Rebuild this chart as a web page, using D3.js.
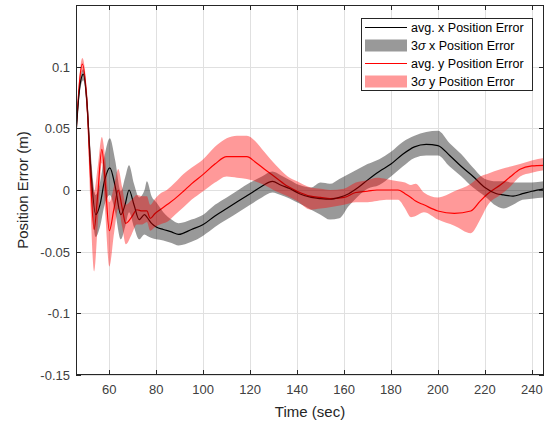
<!DOCTYPE html>
<html><head><meta charset="utf-8">
<script src="https://cdn.jsdelivr.net/npm/d3@7"></script>
<style>
html,body{margin:0;padding:0;background:#fff;}
svg{display:block;font-family:"Liberation Sans",Arial,Helvetica,sans-serif;}
</style></head>
<body>
<svg id="chart" width="547" height="426"></svg>
<script>
// ---- data ----
const xTime = [45.8,47.5,48.9,50.5,52,54.2,56,58,60.2,62.5,64.9,66.7,68.4,70.5,72.7,75,76,78,80,83,86.5,89.5,95,100,105,110,115,120,125,129.5,133,137,141,146,150,154,158,162,166,170,175,180,185,190,195,200,205,210,215,220,225,228,232,236,240,245.2];
const xAvg  = [0.045,0.085,0.094,0.07,0.02,-0.020,-0.012,0.008,0.018,0.003,-0.020,-0.012,0.000,-0.012,-0.024,-0.020,-0.022,-0.027,-0.030,-0.032,-0.034,-0.036,-0.032,-0.028,-0.021,-0.015,-0.009,-0.003,0.003,0.007,0.004,0.001,-0.003,-0.006,-0.007,-0.0075,-0.006,-0.003,0.002,0.008,0.015,0.021,0.029,0.035,0.037,0.036,0.028,0.019,0.011,0.002,-0.003,-0.004,-0.005,-0.003,-0.001,0.001];
const xLo   = [0.041,0.080,0.089,0.062,0.008,-0.038,-0.030,-0.012,-0.004,-0.018,-0.040,-0.030,-0.018,-0.030,-0.040,-0.036,-0.037,-0.039,-0.040,-0.041,-0.043,-0.045,-0.042,-0.037,-0.030,-0.024,-0.018,-0.012,-0.006,-0.002,-0.004,-0.007,-0.011,-0.016,-0.020,-0.024,-0.023,-0.013,-0.005,0.001,0.004,0.011,0.019,0.026,0.028,0.028,0.019,0.011,0.002,-0.005,-0.013,-0.015,-0.012,-0.008,-0.007,-0.006];
const xHi   = [0.049,0.089,0.098,0.077,0.032,-0.004,0.006,0.028,0.042,0.024,-0.001,0.010,0.020,0.005,-0.006,0.000,0.007,-0.005,-0.010,-0.018,-0.024,-0.027,-0.024,-0.020,-0.012,-0.006,0.000,0.006,0.011,0.015,0.012,0.008,0.004,0.002,0.006,0.005,0.009,0.013,0.017,0.021,0.025,0.031,0.039,0.044,0.047,0.048,0.038,0.029,0.018,0.009,0.007,0.007,0.006,0.006,0.006,0.007];

const yTime = [45.8,48.5,50.5,52,53.5,55,56.8,58.3,60,62,63.8,65.5,67,69.5,71.7,74,76,77.4,79.5,81.6,84.5,88,91.6,95,100,105,110,114.4,118.6,122,126,131,136,140,145.7,150,154,160,165,170,174,178,183,186,188.5,190.5,194,200,207,214,218,221,227,231,235,240,245.2];
const yAvg  = [0.045,0.102,0.07,0.01,-0.032,-0.005,0.033,0.005,-0.033,-0.015,0.000,-0.015,-0.027,-0.022,-0.016,-0.017,-0.017,-0.023,-0.019,-0.016,-0.012,-0.007,-0.001,0.005,0.0127,0.021,0.027,0.027,0.027,0.023,0.017,0.010,0.003,-0.001,-0.005,-0.006,-0.007,-0.006,-0.002,-0.001,0.000,0.000,0.000,-0.003,-0.006,-0.009,-0.012,-0.017,-0.019,-0.017,-0.009,-0.0035,0.0046,0.011,0.0168,0.0195,0.020];
const yLo   = [0.041,0.096,0.060,-0.015,-0.066,-0.030,0.022,-0.020,-0.062,-0.035,-0.015,-0.030,-0.044,-0.036,-0.028,-0.028,-0.026,-0.033,-0.030,-0.028,-0.026,-0.020,-0.014,-0.008,-0.001,0.006,0.011,0.010,0.009,0.007,0.004,-0.001,-0.005,-0.009,-0.016,-0.015,-0.014,-0.012,-0.010,-0.010,-0.009,-0.008,-0.008,-0.015,-0.022,-0.021,-0.018,-0.024,-0.029,-0.035,-0.024,-0.013,-0.0035,0.003,0.011,0.014,0.016];
const yHi   = [0.049,0.107,0.080,0.030,-0.002,0.018,0.043,0.025,-0.010,0.003,0.017,0.002,-0.012,-0.008,-0.004,-0.005,-0.005,-0.012,-0.007,-0.003,0.000,0.006,0.013,0.018,0.025,0.035,0.042,0.044,0.044,0.040,0.031,0.020,0.011,0.007,0.002,0.001,0.000,0.001,0.006,0.008,0.010,0.009,0.007,0.006,0.004,0.005,-0.002,-0.006,-0.001,0.005,0.011,0.013,0.017,0.019,0.021,0.024,0.026];

const xTicks = [60,80,100,120,140,160,180,200,220,240];
const yTicks = [-0.15,-0.1,-0.05,0,0.05,0.1];
const yTickLabels = ["-0.15","-0.1","-0.05","0","0.05","0.1"];
const legendLabels = ["avg. x Position Error","3σ x Position Error","avg. y Position Error","3σ y Position Error"];

// ---- chart ----
const svg = d3.select("#chart");
const L = 76, R = 544, T = 5, B = 375;
const x = d3.scaleLinear().domain([45.8, 245.2]).range([L, R]);
const y = d3.scaleLinear().domain([-0.15, 0.15]).range([B, T]);
const axisCol = "#262626";
const labelCol = "#404040";

// grid
const grid = svg.append("g");
xTicks.forEach(t => grid.append("line").attr("x1", Math.round(x(t))+0.5).attr("x2", Math.round(x(t))+0.5).attr("y1", T).attr("y2", B)
  .attr("stroke", "#e0e0e0").attr("stroke-width", 1));
yTicks.concat([0.15]).forEach(t => grid.append("line").attr("x1", L).attr("x2", R).attr("y1", Math.round(y(t))+0.5).attr("y2", Math.round(y(t))+0.5)
  .attr("stroke", "#e0e0e0").attr("stroke-width", 1));

svg.append("defs").append("clipPath").attr("id", "clip").append("rect")
  .attr("x", L).attr("y", T).attr("width", R - L).attr("height", B - T);
const plot = svg.append("g").attr("clip-path", "url(#clip)");

const xs = xTime.map((t, i) => ({t, a: xAvg[i], lo: xLo[i], hi: xHi[i]}));
const ys = yTime.map((t, i) => ({t, a: yAvg[i], lo: yLo[i], hi: yHi[i]}));
const curve = d3.curveMonotoneX;
const line = d3.line().x(d => x(d.t)).y(d => y(d.a)).curve(curve);
const area = d3.area().x(d => x(d.t)).y0(d => y(d.lo)).y1(d => y(d.hi)).curve(curve);

plot.append("path").datum(ys).attr("d", line).attr("fill", "none").attr("stroke", "#ff0000").attr("stroke-width", 1.2);
plot.append("path").datum(xs).attr("d", line).attr("fill", "none").attr("stroke", "#000").attr("stroke-width", 1.2);
plot.append("path").datum(xs).attr("d", area).attr("fill", "#000").attr("fill-opacity", 0.4);
plot.append("path").datum(ys).attr("d", area).attr("fill", "#ff0000").attr("fill-opacity", 0.4);

// axes box
const ax = svg.append("g");
ax.append("rect").attr("x", L + 0.5).attr("y", T + 0.5).attr("width", R - L - 1).attr("height", B - T - 1)
  .attr("fill", "none").attr("stroke", axisCol).attr("stroke-width", 1);
const tl = 5;
xTicks.forEach(t => {
  const px = Math.round(x(t)) + 0.5;
  ax.append("line").attr("x1", px).attr("x2", px).attr("y1", B).attr("y2", B - tl).attr("stroke", axisCol);
  ax.append("line").attr("x1", px).attr("x2", px).attr("y1", T).attr("y2", T + tl).attr("stroke", axisCol);
  ax.append("text").attr("x", x(t)).attr("y", B + 19).attr("text-anchor", "middle")
    .attr("font-size", 13).attr("fill", labelCol).text(t);
});
yTicks.forEach((t, i) => {
  const py = Math.round(y(t)) + 0.5;
  ax.append("line").attr("x1", L).attr("x2", L + tl).attr("y1", py).attr("y2", py).attr("stroke", axisCol);
  ax.append("line").attr("x1", R).attr("x2", R - tl).attr("y1", py).attr("y2", py).attr("stroke", axisCol);
  ax.append("text").attr("x", L - 6).attr("y", y(t) + 5).attr("text-anchor", "end")
    .attr("font-size", 13).attr("fill", labelCol).text(yTickLabels[i]);
});
svg.append("text").attr("x", (L + R) / 2).attr("y", 417).attr("text-anchor", "middle")
  .attr("font-size", 15).attr("fill", axisCol).text("Time (sec)");
svg.append("text").attr("transform", `translate(28,${(T + B) / 2}) rotate(-90)`).attr("text-anchor", "middle")
  .attr("font-size", 15).attr("fill", axisCol).text("Position Error (m)");

// legend
const lg = svg.append("g");
lg.append("rect").attr("x", 361.5).attr("y", 18.5).attr("width", 171).attr("height", 72)
  .attr("fill", "#fff").attr("stroke", axisCol).attr("stroke-width", 1);
const rows = [27.5, 45.5, 63.5, 81.5];
rows.forEach((ry, i) => {
  if (i === 0 || i === 2) {
    lg.append("line").attr("x1", 365).attr("x2", 407).attr("y1", ry).attr("y2", ry)
      .attr("stroke", i === 0 ? "#000" : "#ff0000").attr("stroke-width", 1);
  } else {
    lg.append("rect").attr("x", 365).attr("y", ry - 6).attr("width", 42).attr("height", 12)
      .attr("fill", i === 1 ? "#000" : "#ff0000").attr("fill-opacity", 0.4);
  }
  const txt = lg.append("text").attr("x", 411).attr("y", ry + 4).attr("font-size", 12.5).attr("fill", "#000");
  const s = legendLabels[i];
  if (s.startsWith("3σ")) {
    txt.append("tspan").text("3");
    txt.append("tspan").attr("font-style", "italic").text("σ");
    txt.append("tspan").text(s.slice(2));
  } else {
    txt.text(s);
  }
});
</script>
</body></html>
